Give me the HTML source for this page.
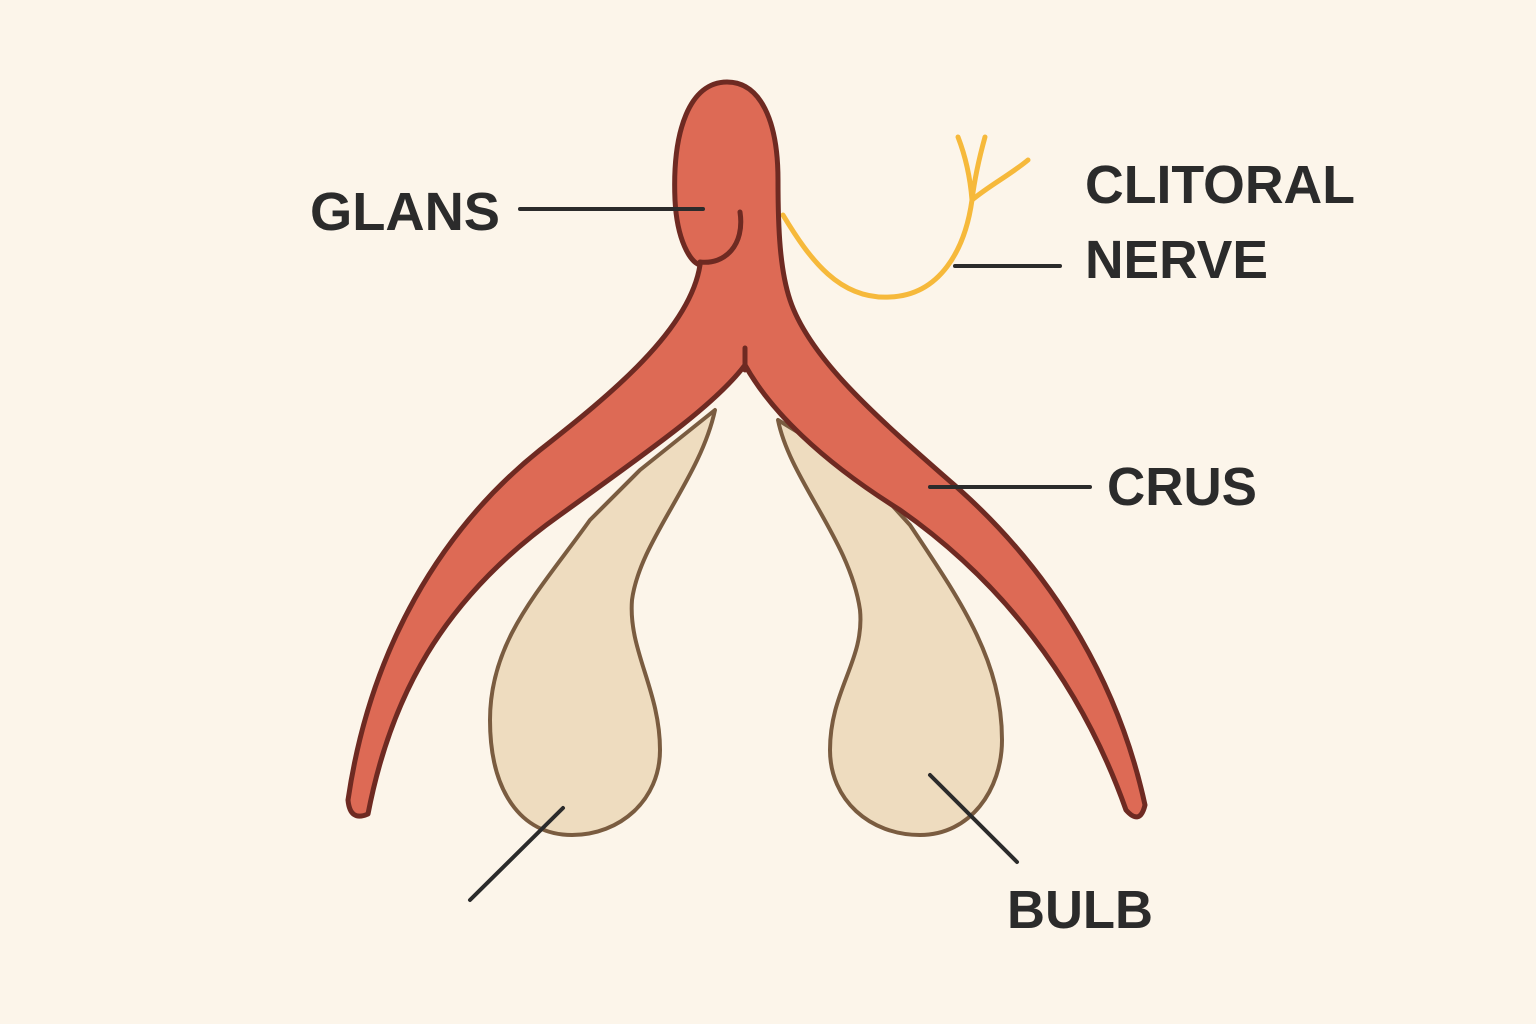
<!DOCTYPE html>
<html><head><meta charset="utf-8"><style>
html,body{margin:0;padding:0;background:#fcf5ea;}
svg{display:block}
text{font-family:"Liberation Sans",sans-serif;font-size:54px;fill:#2b2b2b;font-weight:bold;}
</style></head><body>
<svg width="1536" height="1024" viewBox="0 0 1536 1024">
<rect width="1536" height="1024" fill="#fcf5ea"/>
<g fill="#eedcbf" stroke="#7a5c40" stroke-width="4" stroke-linejoin="round">
<path d="M715,410 C700,480 640,540 632,600 C628,650 660,690 660,750 C660,800 620,835 572,835 C520,835 490,790 490,720 C490,640 540,590 590,520 L640,470 Z"/>
<path d="M778,420 C790,480 850,540 860,610 C865,660 830,690 830,750 C830,800 870,835 920,835 C970,835 1002,790 1002,740 C1002,660 960,600 910,525 L860,470 Z"/>
</g>
<g fill="none" stroke="#f6b93b" stroke-width="5" stroke-linecap="round">
<path d="M783,215 C810,260 840,300 890,297 C940,295 965,250 972,200"/>
<path d="M972,200 C990,185 1010,175 1028,160"/>
<path d="M972,200 C970,175 965,155 958,137 M972,200 C975,175 980,155 985,137"/>
</g>
<path fill="#dd6a55" stroke="#6e2a22" stroke-width="5" stroke-linejoin="round"
d="M700,265 C690,330 610,395 540,450 C440,530 370,650 348,800 Q350,822 368,814 C390,700 440,600 560,515 C650,450 715,405 745,365 C770,410 820,460 900,510 C1000,580 1080,680 1126,810 Q1140,826 1145,805 C1120,690 1060,580 960,490 C880,420 810,360 790,300 C780,270 778,230 778,180 C778,120 760,82 727,82 C690,82 672,130 675,200 C677,240 690,262 700,265 Z"/>
<g fill="none" stroke="#6e2a22" stroke-width="5" stroke-linecap="round">
<path d="M740,212 C745,245 725,265 700,262"/>
<path d="M745,348 L745,370"/>
</g>
<g stroke="#2b2b2b" stroke-width="4" stroke-linecap="round">
<line x1="520" y1="209" x2="703" y2="209"/>
<line x1="955" y1="266" x2="1060" y2="266"/>
<line x1="930" y1="487" x2="1090" y2="487"/>
<line x1="930" y1="775" x2="1017" y2="862"/>
<line x1="563" y1="808" x2="470" y2="900"/>
</g>
<text x="310" y="230" textLength="190" lengthAdjust="spacingAndGlyphs">GLANS</text>
<text x="1085" y="203" textLength="270" lengthAdjust="spacingAndGlyphs">CLITORAL</text>
<text x="1085" y="278" textLength="183" lengthAdjust="spacingAndGlyphs">NERVE</text>
<text x="1107" y="505" textLength="150" lengthAdjust="spacingAndGlyphs">CRUS</text>
<text x="1007" y="928" textLength="146" lengthAdjust="spacingAndGlyphs">BULB</text>
</svg>
</body></html>
